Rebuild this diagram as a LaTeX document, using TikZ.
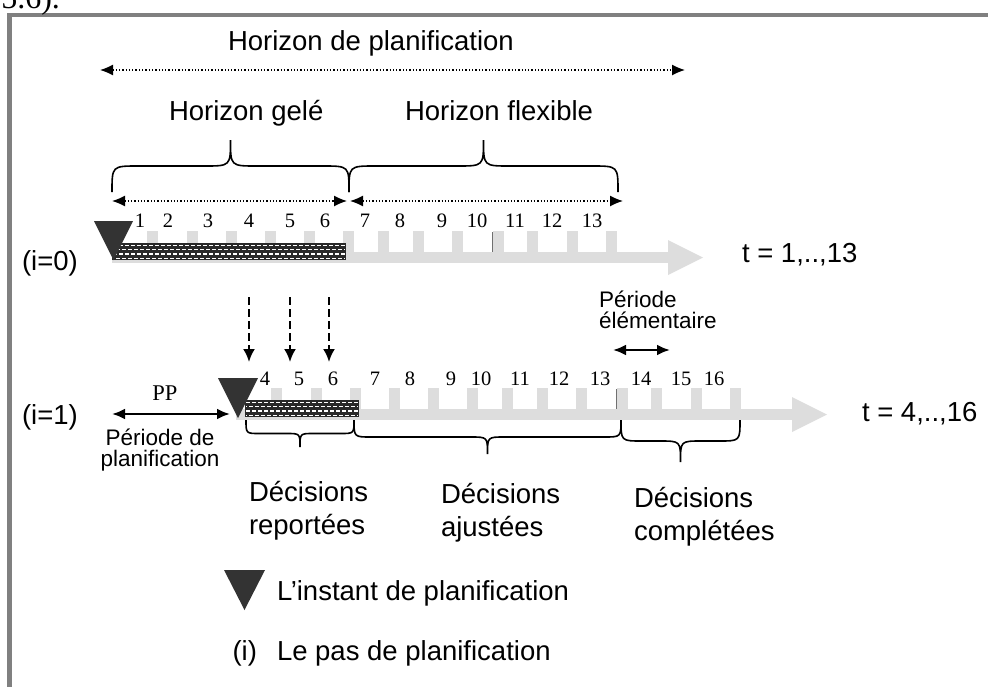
\documentclass[tikz,border=0pt]{standalone}
\usepackage{fontspec}
\setmainfont{Liberation Sans}
\newfontfamily\tmsfont{Liberation Serif}
\usepackage{tikz}
\usetikzlibrary{positioning,arrows.meta,calc}
\definecolor{pgry}{RGB}{128,128,128}
\definecolor{pdrk}{RGB}{51,51,51}
\newcommand{\cbar}{pgry!27!white}
\newcommand{\chch}{pdrk!80!black}
\tikzset{
	every node/.style = { inner sep=0pt, outer sep=0pt },
	lbl/.style = { font=\fontsize{27.5}{33}\selectfont, align=left },
	sml/.style = { font=\fontsize{22.5}{21}\selectfont },
	num/.style = { font=\tmsfont\fontsize{20.5}{21}\selectfont, anchor=base },
	tms/.style = { font=\tmsfont\fontsize{22.5}{22}\selectfont },
	tri/.style = { fill=pdrk },
	hch/.style = { white, line width=1.4pt, dash pattern=on 4pt off 2pt, dash phase=#1 },
	hzn/.style = { line width=1.3pt, dash pattern=on 1.3pt off 2pt, {Latex[length=13pt,width=11pt]}-{Latex[length=13pt,width=11pt]} },
	per/.style = { line width=2.5pt, {Latex[length=13pt,width=11pt]}-{Latex[length=13pt,width=11pt]} },
	rep/.style = { line width=2.2pt, dash pattern=on 8pt off 4pt, -{Latex[length=13pt,width=12pt]} },
	brc/.style = { line width=1.6pt },
	pics/accol/.style 2 args = { code = {
		\pgfmathsetmacro\bh{#2/2}
		\pgfmathsetmacro\bm{#1/2}
		\draw[brc] (0,0) .. controls (0,-\bh) .. (\bh,-\bh) -- (\bm-\bh,-\bh) .. controls (\bm,-\bh) .. (\bm,-#2)
			.. controls (\bm,-\bh) .. (\bm+\bh,-\bh) -- (#1-\bh,-\bh) .. controls (#1,-\bh) .. (#1,0);
	}},
}

\begin{document}
\begin{tikzpicture}[x=1pt,y=-1pt]
\useasboundingbox (0,0) rectangle (988,686);
\draw[pgry, line width=4.4pt] (9.5,700) -- (9.5,14.7) -- (1000,14.7);
\node (fig) [font=\tmsfont\fontsize{32}{32}\selectfont, anchor=base east] at (60,8) {5.6).};

% axes (i=0) et (i=1)
\foreach \dx/\dy in {0/0,124/157} {
	\begin{scope}[shift={(\dx,\dy)}]
		\fill[fill=\cbar] (112,252) rectangle (668,263);
		\fill[fill=\cbar] (668,240) -- (703,257.5) -- (668,275) -- cycle;
		\foreach \t in {152,192,231,270,309,348,383,418,457,498,532,572,611}
			\fill[fill=\cbar] (\t-5.5,231) rectangle (\t+5.5,252);
		\draw[pdrk!70, line width=0.8pt] (492,232) -- (492,252);
	\end{scope}
}

\fill[fill=\chch] (112,243) rectangle (346,260);
\fill[fill=\chch] (245,400) rectangle (359,417);
\foreach \k/\ph in {0/0,1/3,2/0,3/3} {
	\draw[hch={\ph pt}] (113,245.3+4.3*\k) -- (345,245.3+4.3*\k);
	\draw[hch={\ph pt}] (246,402.3+4.3*\k) -- (358,402.3+4.3*\k);
}

\fill[tri] (94,221) -- (133,221) -- (113.5,260) -- cycle;
\fill[tri] (218,378) -- (258,378) -- (238,418) -- cycle;

\foreach \v/\x in {1/140,2/168,3/208,4/249,5/290,6/325,7/365,8/400,9/442,10/477,11/515,12/552,13/592}
	\node (n\v) [num] at (\x,227) {\v};
\foreach \v/\x in {4/265,5/299,6/333,7/375,8/410,9/451,10/481,11/520,12/559,13/600,14/641,15/681,16/714}
	\node (m\v) [num] at (\x,385) {\v};

\pic at (112,192) {accol={237}{52}};
\pic at (349,192) {accol={269}{52}};
\pic[yscale=-1] at (246,420) {accol={108}{27}};
\pic[yscale=-1] at (354,420) {accol={267}{34}};
\pic[yscale=-1] at (621,420) {accol={119}{42}};

\coordinate (hpa) at (100,70);
\coordinate (hpb) at (685,70);
\coordinate (hga) at (112,201);
\coordinate (hgb) at (347,201);
\coordinate (hfa) at (350,201);
\coordinate (hfb) at (623,201);
\draw[hzn] (hpa) -- (hpb);
\draw[hzn] (hga) -- (hgb);
\draw[hzn] (hfa) -- (hfb);

\node (hplan) [lbl, anchor=base west] at (228,50)  {Horizon de planification};
\node (hgel)  [lbl, anchor=base west] at (169,120) {Horizon gelé};
\node (hflex) [lbl, anchor=base west] at (405,120) {Horizon flexible};
\node (it0)   [lbl, anchor=base west] at (22,270)  {(i=0)};
\node (it1)   [lbl, anchor=base west] at (22,424)  {(i=1)};
\node (tr0)   [lbl, anchor=base west] at (742,262) {t = 1,..,13};
\node (tr1)   [lbl, anchor=base west] at (862,421) {t = 4,..,16};

\foreach \v/\x in {4/249,5/290,6/329} {
	\coordinate (rs\v) at (\x,297);
	\coordinate (re\v) at (\x,362);
	\draw[rep] (rs\v) -- (re\v);
}

\coordinate (ppa) at (112,414);
\coordinate (ppb) at (230,414);
\draw[per] (ppa) -- (ppb);
\node (pp)  [tms, anchor=base] at (165,400) {PP};
\node (ppd) [sml, align=center, anchor=north] at (160,429) {Période de\\planification};

\coordinate (pea) at (613,350);
\coordinate (peb) at (670,350);
\draw[per] (pea) -- (peb);
\node (ped) [sml, align=left, anchor=north west] at (599,291) {Période\\élémentaire};

\node (drep) [lbl, anchor=north west] at (249,481) {Décisions\\reportées};
\node (dajs) [lbl, anchor=north west] at (441,483) {Décisions\\ajustées};
\node (dcmp) [lbl, anchor=north west] at (634,487) {Décisions\\complétées};

% legende
\fill[tri] (224,570) -- (265,570) -- (244.5,610) -- cycle;
\node (lgi) [lbl, anchor=base west] at (277,600) {L’instant de planification};
\node (lgp) [lbl, anchor=base west] at (277,660) {Le pas de planification};
\node (lgs) [lbl, left=20pt of lgp.base west, anchor=base east] {(i)};
\end{tikzpicture}
\end{document}
